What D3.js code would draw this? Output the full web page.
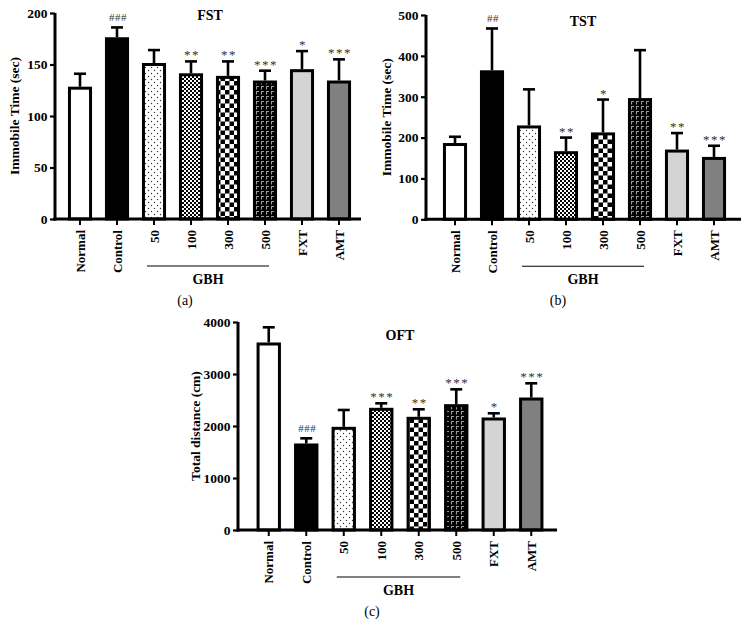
<!DOCTYPE html>
<html><head><meta charset="utf-8">
<script src="https://cdn.jsdelivr.net/npm/d3@7"></script>
<style>
body{margin:0;background:#fff;}
svg{display:block;}
text{font-family:"Liberation Serif","Times New Roman",serif;}
</style></head>
<body>
<svg id="chart" width="748" height="635"></svg>
<script>
const categories = ["Normal","Control","50","100","300","500","FXT","AMT"];
const gbhGroup = ["50","100","300","500"];

const fstMean = [127,175,150,140,137.5,133,144,133];
const fstSD   = [14,11,14,13,15.5,11,19,22];
const fstSig  = ["","###","","**","**","***","*","***"];
const fstTicks = [0,50,100,150,200];

const tstMean = [183,361,226,163,209,293,167,149];
const tstSD   = [19,106,92,37,84,121,44,31];
const tstSig  = ["","##","","**","*","","**","***"];
const tstTicks = [0,100,200,300,400,500];

const oftMean = [3577,1635,1955,2321,2148,2391,2135,2519];
const oftSD   = [321,128,353,115,173,314,109,302];
const oftSig  = ["","###","","***","**","***","*","***"];
const oftTicks = [0,1000,2000,3000,4000];

const fills = ["#ffffff","#000000","url(#pDots)","url(#pFine)","url(#pCheck)","url(#pBrick)","#d4d4d4","#808080"];
const FONT = "'Liberation Serif','Times New Roman',serif";

const svg = d3.select("#chart");
svg.append("rect").attr("width",748).attr("height",635).attr("fill","#fff");
const defs = svg.append("defs");

// dots
let p = defs.append("pattern").attr("id","pDots").attr("patternUnits","userSpaceOnUse").attr("width",6).attr("height",6);
p.append("rect").attr("width",6).attr("height",6).attr("fill","#fff");
p.append("circle").attr("cx",1.5).attr("cy",1.5).attr("r",0.7).attr("fill","#333");
p.append("circle").attr("cx",4.5).attr("cy",4.5).attr("r",0.7).attr("fill","#333");
// fine checker
p = defs.append("pattern").attr("id","pFine").attr("patternUnits","userSpaceOnUse").attr("width",4).attr("height",4);
p.append("rect").attr("width",4).attr("height",4).attr("fill","#fff");
p.append("rect").attr("width",2).attr("height",2).attr("fill","#000");
p.append("rect").attr("x",2).attr("y",2).attr("width",2).attr("height",2).attr("fill","#000");
// coarse checker
p = defs.append("pattern").attr("id","pCheck").attr("patternUnits","userSpaceOnUse").attr("width",9).attr("height",9);
p.append("rect").attr("width",9).attr("height",9).attr("fill","#fff");
p.append("rect").attr("width",4.5).attr("height",4.5).attr("fill","#000");
p.append("rect").attr("x",4.5).attr("y",4.5).attr("width",4.5).attr("height",4.5).attr("fill","#000");
// brick-like
p = defs.append("pattern").attr("id","pBrick").attr("patternUnits","userSpaceOnUse").attr("width",5).attr("height",5);
p.append("rect").attr("width",5).attr("height",5).attr("fill","#000");
p.append("path").attr("d","M1.5,4.5 V1.5 H4").attr("stroke","#9a9a9a").attr("stroke-width",1.1).attr("fill","none");

function drawPanel(cfg){
  const g = svg.append("g");
  const y = d3.scaleLinear().domain([0, cfg.ticks[cfg.ticks.length-1]]).range([cfg.y0, cfg.yTop]);
  const x = d3.scaleBand().domain(categories).range([cfg.xStart, cfg.xEnd]).paddingInner(0.43).paddingOuter(0.215);

  // bars
  g.selectAll("rect.bar").data(categories).join("rect")
    .attr("class","bar")
    .attr("x", d => x(d))
    .attr("width", x.bandwidth())
    .attr("y", (d,i) => y(cfg.mean[i]))
    .attr("height", (d,i) => cfg.y0 - y(cfg.mean[i]))
    .attr("fill", (d,i) => fills[i])
    .attr("stroke","#000").attr("stroke-width",3);

  // error bars
  const eb = g.selectAll("g.eb").data(categories).join("g").attr("class","eb");
  eb.append("line")
    .attr("x1", d => x(d)+x.bandwidth()/2).attr("x2", d => x(d)+x.bandwidth()/2)
    .attr("y1", (d,i) => y(cfg.mean[i])-1.5).attr("y2", (d,i) => y(cfg.mean[i]+cfg.sd[i]))
    .attr("stroke","#000").attr("stroke-width",2.6);
  eb.append("line")
    .attr("x1", d => x(d)+x.bandwidth()/2-6).attr("x2", d => x(d)+x.bandwidth()/2+6)
    .attr("y1", (d,i) => y(cfg.mean[i]+cfg.sd[i])).attr("y2", (d,i) => y(cfg.mean[i]+cfg.sd[i]))
    .attr("stroke","#000").attr("stroke-width",2.6);

  // significance
  g.selectAll("text.sig").data(categories).join("text")
    .attr("class","sig")
    .attr("x", d => x(d)+x.bandwidth()/2 + 1)
    .attr("y", (d,i) => y(cfg.mean[i]+cfg.sd[i]) - (cfg.sig[i].startsWith("#") ? 6 : 2))
    .attr("text-anchor","middle")
    .attr("font-size", (d,i) => cfg.sig[i].startsWith("#") ? 11 : 13)
    .attr("letter-spacing", (d,i) => cfg.sig[i].startsWith("#") ? 0.5 : 1.5)
    .attr("fill","#333")
    .style("font-family",FONT)
    .text((d,i) => cfg.sig[i]);

  // y axis
  const ya = g.append("g").attr("transform",`translate(${cfg.axisX},0)`)
    .call(d3.axisLeft(y).tickValues(cfg.ticks).tickFormat(d3.format("d")).tickSize(5).tickSizeOuter(0).tickPadding(2.5));
  ya.attr("font-family",FONT);
  ya.select(".domain").attr("stroke","#000").attr("stroke-width",3).attr("d",`M0,${cfg.y0+1.5}V${cfg.yTop}`);
  ya.selectAll(".tick line").attr("stroke-width",2.2);
  ya.selectAll(".tick text").attr("font-size",13.5).attr("font-weight","bold").attr("fill","#000")
    .style("font-family",FONT);

  // x axis
  const xa = g.append("g").attr("transform",`translate(0,${cfg.y0})`)
    .call(d3.axisBottom(x).tickSize(6).tickSizeOuter(0));
  xa.attr("font-family",FONT);
  xa.select(".domain").remove();
  xa.selectAll(".tick line").attr("stroke-width",2);
  xa.selectAll(".tick text")
    .attr("transform","rotate(-90)").attr("x",-11).attr("y",0).attr("dy","0.35em")
    .style("text-anchor","end").attr("font-size",13).attr("font-weight","bold").attr("fill","#000")
    .style("font-family",FONT);
  g.append("line").attr("x1",cfg.axisX-1.5).attr("x2",cfg.axisEnd).attr("y1",cfg.y0).attr("y2",cfg.y0)
    .attr("stroke","#000").attr("stroke-width",3);

  // y label
  g.append("text").attr("transform",`translate(${cfg.ylabX},${(cfg.y0+cfg.yTop)/2}) rotate(-90)`)
    .attr("text-anchor","middle").attr("font-size",13.5).attr("font-weight","bold")
    .style("font-family",FONT).text(cfg.ylabel);

  // title
  g.append("text").attr("x",cfg.titleX).attr("y",cfg.titleY).attr("text-anchor","middle")
    .attr("font-size",14).attr("font-weight","bold").style("font-family",FONT).text(cfg.title);

  // GBH bracket
  const gx1 = x(gbhGroup[0]) + x.bandwidth()/2 - 7;
  const gx2 = x(gbhGroup[gbhGroup.length-1]) + x.bandwidth()/2 + 4;
  const gy = cfg.y0 + 47;
  g.append("line").attr("x1",gx1).attr("x2",gx2).attr("y1",gy).attr("y2",gy).attr("stroke","#000").attr("stroke-width",1.1);
  g.append("text").attr("x",(gx1+gx2)/2).attr("y",gy+18).attr("text-anchor","middle")
    .attr("font-size",14).attr("font-weight","bold").style("font-family",FONT).text("GBH");

  // panel label
  g.append("text").attr("x",cfg.subX).attr("y",cfg.y0+86).attr("text-anchor","middle")
    .attr("font-size",14).style("font-family",FONT).text(cfg.sub);
}

drawPanel({mean:fstMean, sd:fstSD, sig:fstSig, ticks:fstTicks, y0:219, yTop:13,
  axisX:55, axisEnd:361, xStart:61.5, xEnd:357.5, ylabX:19, ylabel:"Immobile Time (sec)",
  title:"FST", titleX:210, titleY:20, subX:185, sub:"(a)"});
drawPanel({mean:tstMean, sd:tstSD, sig:tstSig, ticks:tstTicks, y0:219.3, yTop:15,
  axisX:426, axisEnd:741, xStart:436.5, xEnd:732.5, ylabX:391, ylabel:"Immobile Time (sec)",
  title:"TST", titleX:583, titleY:26, subX:558, sub:"(b)"});
drawPanel({mean:oftMean, sd:oftSD, sig:oftSig, ticks:oftTicks, y0:530, yTop:322,
  axisX:238, axisEnd:557, xStart:250, xEnd:550, ylabX:200, ylabel:"Total distance (cm)",
  title:"OFT", titleX:400, titleY:340, subX:372, sub:"(c)"});
</script>
</body></html>
